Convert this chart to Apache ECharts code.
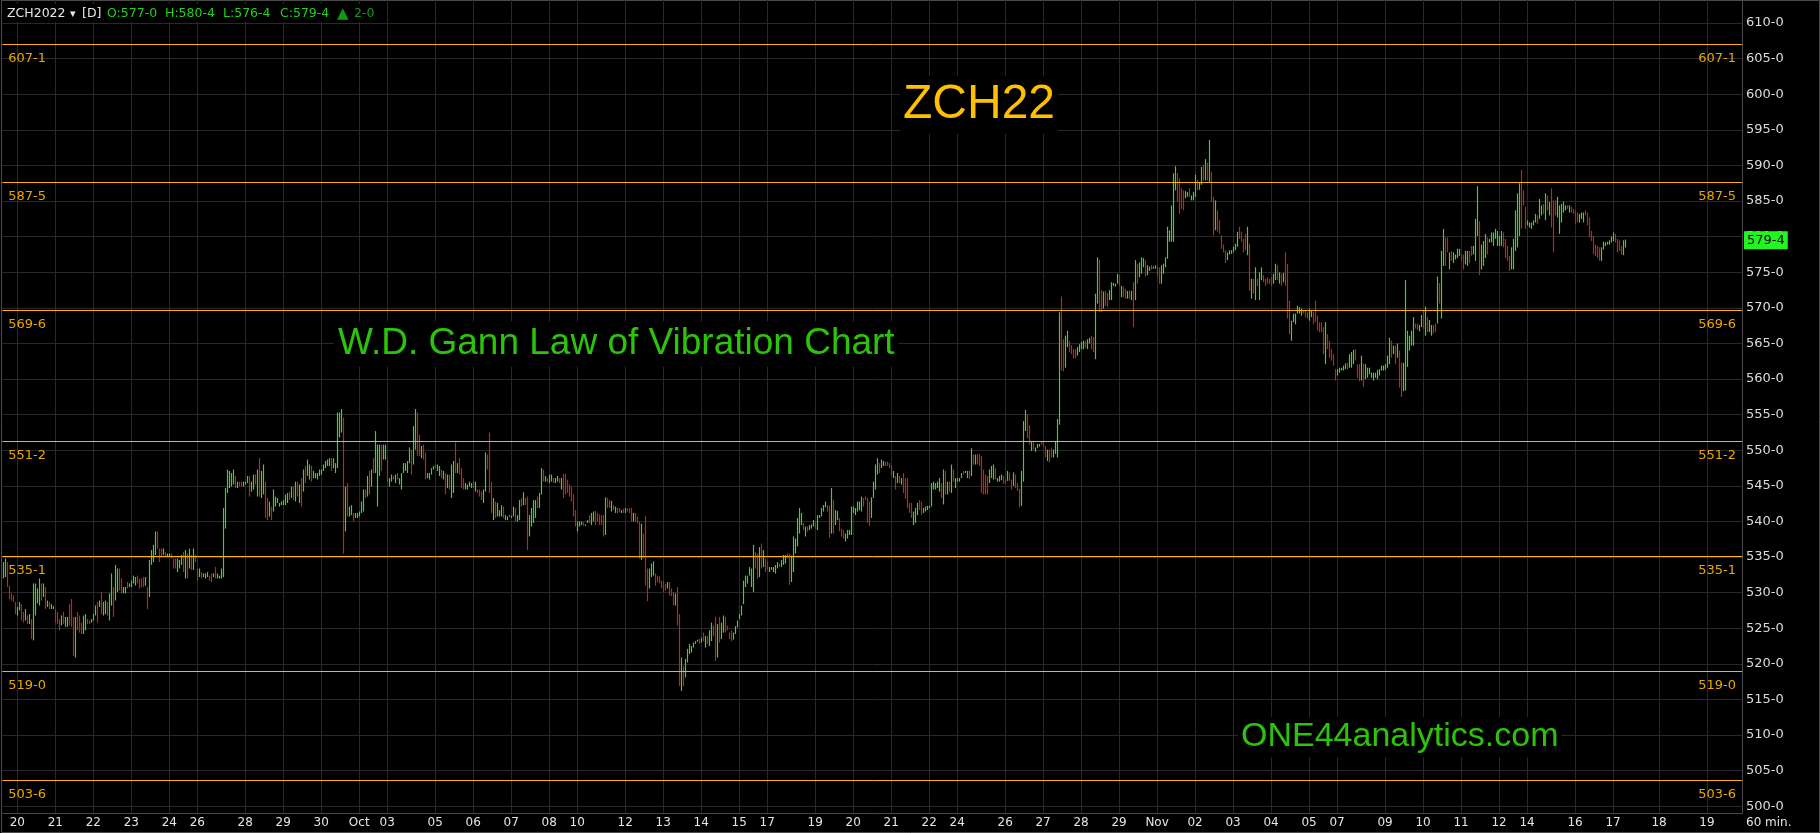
<!DOCTYPE html>
<html><head><meta charset="utf-8">
<script src="https://cdn.jsdelivr.net/npm/echarts@6/dist/echarts.min.js"></script>
<style>html,body{margin:0;padding:0;background:#000;overflow:hidden}#c{width:1820px;height:833px}</style>
</head><body><div id="c"></div>
<script>
// ---------- DATA (ZCH2022, 60 min bars) ----------
const highs = [
534.3,534.8,534.3,531.0,529.9,529.6,528.7,528.0,528.7,528.4,
527.3,527.7,526.8,527.0,526.3,531.3,531.3,530.6,532.0,531.3,
531.3,530.8,528.9,528.7,528.4,528.1,527.7,527.3,526.3,526.8,
527.3,526.6,526.6,528.4,529.1,526.6,526.6,527.3,526.8,525.8,
526.8,527.0,526.3,526.1,526.3,527.0,528.2,528.7,528.9,530.1,
528.7,528.9,528.7,529.9,532.7,530.8,533.9,533.4,533.4,532.0,
530.8,530.8,531.5,531.3,531.7,532.4,532.2,532.4,532.0,532.0,
532.2,532.2,530.8,534.6,536.0,536.7,538.6,538.6,536.2,536.2,
536.2,535.7,535.5,535.5,535.5,534.8,534.8,534.8,534.6,535.3,
535.7,536.0,535.5,536.2,535.3,536.2,535.3,533.4,533.4,532.9,
532.7,532.7,532.9,532.4,532.7,532.7,533.6,532.7,532.4,533.4,
541.9,544.7,547.3,547.1,546.8,547.3,546.4,545.6,545.6,545.6,
545.6,545.6,546.4,546.4,545.6,546.6,546.6,547.3,548.9,547.1,
548.0,545.6,543.3,542.8,542.1,544.5,543.5,543.3,542.6,542.8,
543.0,543.8,544.0,544.2,544.9,544.9,545.6,545.6,545.2,546.1,
547.3,547.8,548.7,548.0,547.8,547.1,546.8,546.8,547.3,547.3,
548.0,548.5,548.7,548.9,548.9,548.9,548.2,555.3,555.3,555.8,
554.6,544.9,545.4,542.1,542.3,541.2,541.2,541.2,541.4,542.8,
544.5,544.5,546.4,547.1,547.3,548.9,552.7,550.8,550.8,550.8,
550.8,550.8,548.7,546.1,546.6,546.4,546.6,546.8,546.1,546.8,
548.2,548.2,548.5,550.4,550.1,553.4,555.8,555.3,552.2,550.6,
550.8,549.7,546.8,546.8,547.5,547.8,548.0,548.0,547.8,547.3,
547.1,546.8,546.6,546.6,548.0,548.5,551.1,548.2,548.9,547.5,
546.1,545.4,545.2,545.6,545.4,545.6,545.6,544.5,544.5,544.2,
544.5,549.7,549.4,552.5,545.6,543.3,542.8,542.6,541.6,
542.3,542.1,540.9,540.7,540.9,540.8,542.1,541.9,540.9,543.0,
543.3,544.1,543.3,543.5,540.9,541.9,543.0,543.0,543.5,544.0,
547.5,547.3,546.4,546.1,546.6,546.6,546.1,546.1,546.4,546.1,
546.1,546.7,546.7,545.9,545.2,544.9,543.8,541.6,540.0,540.0,
540.0,539.9,539.6,540.2,540.9,541.2,541.4,541.5,541.2,541.0,
540.9,540.9,543.4,543.3,543.0,542.9,542.3,542.1,541.9,541.9,
541.6,541.8,541.9,541.8,541.9,541.9,541.2,541.2,540.7,540.0,
539.7,538.3,540.8,533.4,533.4,534.1,534.4,532.7,532.4,532.3,
531.7,531.7,531.3,531.5,531.5,530.6,530.1,529.9,530.8,527.0,
520.9,519.7,520.7,522.1,522.8,522.5,523.0,523.2,523.4,523.5,
523.7,524.4,523.9,523.9,524.7,525.8,525.4,526.6,525.6,526.6,
525.8,526.8,526.6,525.4,524.4,524.7,524.4,525.3,526.1,527.0,
528.2,531.7,532.4,532.4,533.6,533.4,536.7,535.7,535.5,536.4,
536.9,536.0,534.8,534.4,533.6,533.6,533.6,533.9,534.3,534.1,
534.6,535.3,535.3,535.5,535.5,535.2,537.9,537.6,540.5,541.9,
541.2,539.8,539.3,539.3,539.5,539.6,540.2,540.0,540.9,540.9,
541.9,542.3,542.8,542.3,542.2,544.7,543.0,541.6,541.5,540.5,
539.0,538.8,538.3,538.8,538.8,542.1,542.1,541.9,542.8,542.8,
543.5,543.3,543.5,543.3,542.8,543.4,545.6,548.0,548.9,548.2,
548.7,548.5,548.4,548.4,548.2,547.9,547.1,546.4,546.8,546.4,
546.1,546.8,546.1,546.1,542.6,542.6,541.4,541.9,542.6,543.0,
542.8,541.9,542.1,542.2,542.2,545.4,545.6,545.4,545.6,546.1,
545.4,547.3,547.1,545.6,545.6,548.0,547.3,546.1,546.1,546.1,
546.8,547.1,547.1,547.1,547.1,550.3,549.4,549.4,549.5,549.5,
549.2,547.3,546.6,546.4,547.3,547.8,548.0,547.5,546.1,546.4,
546.6,546.4,545.9,547.1,546.9,545.9,546.9,546.6,545.4,544.6,
547.1,554.1,555.7,555.1,553.5,551.3,551.2,550.4,550.9,550.9,
551.2,551.2,550.6,550.1,550.1,550.4,550.1,551.3,554.4,
569.4,571.6,565.6,566.1,566.8,565.4,564.8,564.2,564.2,564.5,
564.9,565.2,565.4,565.4,565.6,565.8,566.1,565.9,572.0,577.1,
576.8,572.5,572.3,572.4,572.1,572.5,573.6,573.5,573.4,574.8,
574.6,573.1,573.0,572.7,572.4,572.4,572.4,573.6,576.7,576.2,
576.4,577.1,577.0,576.7,576.0,575.8,576.0,575.8,576.0,575.8,
575.7,576.0,576.2,577.1,581.4,580.9,584.4,588.9,589.9,588.9,
588.2,586.8,586.5,586.4,586.3,586.8,585.8,586.3,588.7,588.0,
587.7,589.8,590.1,590.9,590.4,593.6,589.1,585.6,585.1,583.7,
582.3,580.2,578.9,578.1,577.8,578.1,578.1,578.6,579.0,580.7,
581.4,580.7,579.7,580.4,581.4,579.0,574.1,574.1,575.7,574.1,
575.0,575.7,574.6,574.1,574.3,574.1,574.3,574.8,576.2,576.0,
575.0,574.8,574.9,577.8,576.2,571.0,568.2,569.2,569.2,570.3,
570.1,569.9,569.6,569.6,569.4,569.9,569.6,569.4,571.0,568.9,
568.0,568.0,567.3,568.0,566.3,565.4,564.2,563.5,561.4,561.4,
561.6,561.6,561.9,562.2,562.3,563.5,563.8,564.1,564.2,562.1,
562.1,563.3,562.2,562.1,561.6,561.6,560.9,560.9,560.9,561.3,
561.4,561.9,561.9,562.1,563.3,565.8,565.4,564.7,564.7,565.0,
564.0,562.3,562.3,573.9,566.8,566.1,566.8,568.7,
567.8,567.8,567.6,569.0,569.7,570.2,568.7,568.3,567.6,567.6,
567.8,574.4,573.5,578.0,581.1,579.9,579.9,577.8,578.0,577.8,
577.5,578.3,578.3,577.5,577.5,578.0,578.0,578.0,578.7,578.7,
582.5,587.1,582.2,578.9,579.4,580.4,579.9,579.7,580.6,580.6,
581.1,580.8,580.1,580.8,580.6,579.7,578.7,577.3,578.5,579.7,
583.7,586.1,587.5,589.4,586.5,584.2,582.3,582.0,582.0,582.3,
583.2,583.0,585.3,584.4,584.6,586.1,585.8,584.9,586.8,585.1,
585.1,585.6,584.4,584.6,584.9,584.4,584.4,584.4,584.2,583.9,
583.7,583.4,583.2,583.4,583.4,583.7,583.4,582.7,580.8,580.1,
578.9,578.7,578.5,578.5,579.3,579.2,579.3,579.5,580.0,580.6,
580.4,579.7,579.5,578.7,579.5,579.6
];
const lows = [
532.0,532.2,530.8,529.1,528.9,528.7,527.0,526.8,527.5,526.1,
525.8,526.1,525.6,525.6,523.5,523.3,526.8,528.5,528.2,528.9,
529.4,527.7,528.0,527.7,527.7,527.7,525.8,525.6,524.7,525.4,
525.6,525.2,525.2,525.4,525.2,521.1,520.9,524.7,524.4,524.2,
524.2,524.7,525.6,525.6,525.8,526.1,526.8,525.8,528.0,527.0,
526.8,527.0,526.8,526.1,528.2,526.6,528.9,530.1,530.3,529.9,
529.9,529.9,530.6,530.8,530.8,531.3,531.0,531.3,530.6,530.8,
530.8,531.0,527.7,529.4,533.9,534.3,535.3,536.2,534.3,535.0,
535.3,535.0,535.0,535.0,534.8,533.4,533.4,532.9,533.4,533.9,
532.9,532.0,532.0,533.4,533.2,533.2,534.3,531.7,532.2,532.0,
532.2,532.0,532.2,531.7,531.5,532.2,532.0,532.0,532.0,532.0,
532.2,539.0,544.0,544.7,544.9,545.2,544.7,544.7,544.9,544.9,
544.9,545.2,545.4,543.5,544.2,544.5,545.2,543.5,543.5,543.3,
543.8,540.5,540.2,540.7,540.2,541.4,542.1,542.6,542.1,542.3,
542.3,542.3,542.6,543.0,543.3,543.0,542.8,543.5,542.6,542.1,
544.2,545.4,546.4,545.9,545.6,546.1,546.1,545.9,546.4,546.6,
547.1,547.5,547.8,547.8,547.1,547.5,546.8,547.5,551.8,552.5,
535.5,538.6,540.7,540.7,540.9,540.0,540.5,540.5,540.7,541.2,
541.4,543.3,543.5,543.8,544.9,546.8,546.8,542.1,546.4,547.1,
548.7,548.7,545.6,544.9,545.6,545.9,545.4,545.9,545.2,544.5,
546.8,547.1,546.8,548.2,546.6,548.0,550.1,549.2,549.2,548.9,
548.7,545.9,546.1,545.9,546.6,547.3,547.5,547.1,546.4,546.1,
545.9,543.8,544.7,544.5,543.3,544.0,546.8,546.8,546.6,544.7,
544.5,544.5,544.5,544.9,544.7,544.7,544.2,544.0,543.5,543.0,
542.6,544.2,547.3,544.0,541.2,540.2,540.5,540.7,540.7,
540.7,540.5,540.2,540.2,540.7,540.5,540.7,540.0,540.0,540.2,
542.1,542.3,542.3,536.0,537.9,539.3,539.8,540.5,541.9,541.9,
543.8,545.6,545.6,545.6,545.4,545.6,545.4,545.4,545.6,545.4,
544.5,543.3,543.8,544.0,543.5,542.8,540.7,539.3,538.6,539.3,
539.5,539.4,539.4,539.8,539.8,539.5,540.0,539.5,540.0,539.5,
539.5,537.9,538.1,541.9,541.9,541.4,541.6,541.2,541.2,541.3,
541.2,541.2,541.2,541.4,541.2,540.0,540.0,540.0,539.8,534.8,
534.6,534.8,531.0,528.8,530.6,532.2,532.4,531.0,531.5,531.3,
530.6,530.1,530.3,530.6,529.6,529.5,528.2,528.2,525.4,516.9,
516.2,516.9,518.1,520.2,521.4,521.6,522.3,522.8,523.1,522.8,
523.0,523.2,522.3,522.8,522.5,523.2,523.9,520.4,520.9,523.0,
523.5,524.4,524.4,524.7,523.5,523.2,523.4,524.2,525.1,526.3,
526.8,528.4,530.8,531.3,532.4,530.8,530.1,533.4,532.0,532.2,
533.4,533.6,532.9,533.2,532.9,533.2,532.9,532.7,533.4,533.6,
533.6,533.9,534.1,534.8,531.1,531.5,532.9,535.5,536.5,538.3,
539.5,538.8,537.9,538.6,538.8,539.0,539.3,539.0,538.8,540.5,
540.7,541.4,542.0,541.4,537.7,538.3,538.3,539.5,540.2,538.6,
537.9,537.6,537.2,537.6,538.1,538.1,541.2,540.9,541.4,541.6,
541.4,542.1,543.0,539.8,539.4,540.5,543.3,544.5,546.6,546.8,
547.5,547.8,547.8,547.8,547.5,546.5,546.1,544.5,545.4,545.4,
545.2,544.0,543.2,541.9,541.2,540.5,539.5,539.8,540.9,541.6,
540.9,541.2,541.4,541.6,541.9,542.1,544.5,544.5,544.7,544.2,
543.3,542.4,543.8,543.8,544.2,544.0,545.6,544.7,545.6,545.6,
546.1,546.6,546.8,546.1,546.0,546.4,548.0,548.0,548.0,547.8,
544.0,543.8,543.8,543.8,545.4,546.1,545.9,545.9,545.6,545.6,
545.8,545.3,545.3,545.7,545.7,544.5,545.0,544.7,544.3,542.0,
542.2,545.6,552.7,551.7,550.8,549.9,550.1,549.8,550.3,550.5,
550.8,550.5,549.0,548.5,548.3,549.0,549.0,549.5,549.0,
553.6,561.2,561.1,561.6,564.5,563.8,563.5,562.9,562.9,563.3,
563.8,564.2,564.2,564.4,564.2,565.0,564.2,563.8,562.8,570.6,
569.4,569.4,569.9,570.3,570.1,571.1,571.1,573.1,573.0,573.4,
573.1,571.5,571.5,571.3,571.3,571.3,571.1,567.3,571.1,573.4,
574.3,574.8,575.7,574.4,574.6,575.2,575.4,575.5,575.5,574.4,
573.4,573.4,574.8,575.7,576.9,579.3,579.3,579.3,586.5,584.9,
583.2,583.9,583.7,585.4,585.6,585.6,585.1,585.1,585.6,586.5,
586.6,587.3,587.9,587.9,587.9,587.7,584.9,580.2,580.9,580.7,
580.4,578.3,577.8,576.3,576.7,577.5,577.6,577.8,578.1,578.6,
579.7,579.3,577.8,578.1,577.4,572.4,571.3,572.0,571.1,573.1,
571.1,573.9,573.6,573.1,573.4,573.4,573.1,573.4,573.9,573.9,
573.4,573.1,573.6,573.1,568.5,566.3,565.4,568.0,567.7,569.2,
569.2,568.9,569.2,568.7,568.5,568.2,568.7,567.7,568.0,566.8,
566.6,566.6,563.5,562.1,564.2,563.0,562.6,561.9,559.8,560.5,
560.9,561.2,561.2,561.4,561.4,561.6,561.6,562.1,562.6,560.2,
559.7,559.8,558.9,560.0,560.2,560.7,560.2,559.8,560.2,560.0,
560.5,561.2,561.2,561.3,561.6,562.1,563.0,563.5,562.1,563.0,
558.8,557.5,558.3,558.4,561.7,564.0,564.7,564.7,
567.1,566.9,566.7,567.3,567.1,566.1,566.6,566.6,566.1,566.4,
566.6,567.8,570.6,568.5,575.9,575.9,577.8,575.4,576.6,576.3,
576.8,577.0,577.3,576.6,575.4,576.1,575.9,576.3,577.3,577.5,
576.6,580.1,574.6,575.4,575.9,577.0,577.5,579.2,579.2,578.7,
579.7,578.7,578.7,578.7,578.5,577.0,576.6,575.2,575.4,575.4,
578.0,578.5,580.1,581.1,584.4,581.1,581.6,581.3,581.1,581.6,
582.0,581.8,582.5,583.0,583.2,582.3,583.7,583.0,581.3,577.8,
583.0,582.7,580.4,582.0,583.4,583.7,583.9,583.4,583.4,583.2,
581.8,582.0,582.0,582.5,582.0,583.0,581.6,579.9,579.4,577.5,
577.3,577.0,576.6,576.6,578.2,578.7,578.9,578.9,579.2,579.4,
579.2,577.8,578.0,577.5,577.4,578.5
];
// G = up bar (green), R = down bar (red)
const barDirs = (
"GGRRRRRGGR"+"RGRGRGGGGR"+"GRGRGGRRRG"+"RGGRRRGRRR"+"GGRRGGGRGR"+"GGRGGRGGRR"+"GGRGGGGRRR"+"RGRGGGGRRR"+"GRGGRRRGGG"+"RGRGRGRRGR"+
"GGGRRGRGGG"+"GGGGGGRGRR"+"GGGRGGRGRG"+"GRRGRGGGGG"+"GGGRGRGRGR"+"GRGGRGGGGG"+"GGGGRGGGGG"+"RGRGGRGGGG"+"GRGRGRGGGR"+"GGRGGRGRGG"+
"GGGGRGGRRG"+"RRGGGGRGGR"+"GRGRGGRGRR"+"RGGGGRGRRR"+"GGRRRGRGG"+
"GRGGGGGRGG"+"RGRRGGGGRG"+"GRGRGGRGGR"+"GRRRRRRRGG"+"GRGGRGGRRR"+"RRGRRGRGRR"+"GRGRRRGRRR"+"GRRRGGGRRR"+"RRRGRRRGRR"+"GRGGGGGGGR"+
"GRGRGGRRGR"+"GGRRRRGGGG"+"GGGGGGGRRG"+"RGRRGGGGGR"+"GGGRRGGGGG"+"GRGRGGGRGG"+"GGGRRGRGGR"+"RRGGGGGGGG"+"GRRRRGGGGR"+"GGRRRRGRGR"+
"GRRRRRGGGR"+"RGGGGGGGGG"+"RGRGRGRGGG"+"GRGGRGRGRR"+"RRRRGGGRGG"+
"GRRGRRGRRR"+"GGGRRGRGGG"+"RRRGRRGGG"+
"GRRGGRRRRG"+"GGGRGGRRGG"+"RRGRRGGGGG"+"RGRRGRGRGR"+"GGGRGGRGGR"+"RGGGGGGGGR"+"RRRGGRGGGR"+"GGRGRGRRGR"+"RRRRGGGGGG"+"RRRRGRGRGR"+
"GGRRRRRGGR"+"GRGRRRGGGG"+"GGRRRGGRRR"+"RRRGRRRRRG"+"GGGGRGGGRR"+"RGRGGGGGGG"+"GGGGGGRGRG"+"RRGGGGGG"+
"RRGGRGRGGR"+"RGRGGRRGRG"+"GGGRRGGRRG"+"GGRGGGRGGG"+"GGGGRRRRGG"+"GGGRRRGGGG"+"GRGGRGRGRR"+"RGGGGGRGRR"+"RRGGGRRRRR"+"RRRGGGGGGG"+
"RRRRGG").split('');

const gannLevels = [607.125, 587.625, 569.75, 551.25, 535.125, 519, 503.75];
const dateLabelIdx = [7,26,45,64,83,97,121,140,159,178,192,216,235,254,273,287,311,330,349,368,382,406,425,444,463,477,501,520,539,558,577,596,615,634,653,667,691,710,729,748,762,786,805,828,852];
const dateLabelText = ['20','21','22','23','24','26','28','29','30','Oct','03','05','06','07','08','10','12','13','14','15','17','19','20','21','22','24','26','27','28','29','Nov','02','03','04','05','07','09','10','11','12','14','16','17','18','19'];
const lastClose = 579.5;
const headerQuote = ['O:577-0','H:580-4','L:576-4','C:579-4'];
const headerChange = '2-0';
const yTicks = {min: 495, max: 615, step: 5};
const slotCount = 870; // bars + empty future slots on the time axis

// ---------- STYLE ----------
const GREEN = '#33dc1e', RED = '#e11717', GRID = '#292929', FRAME = '#4a4a4a';
const GOLD_LINE = '#ffb400', GOLD_TXT = '#eaa700';
const FONT = 'DejaVu Sans';
const PLOT_TOP = 613.3, PLOT_BOT = 499.1;

function fmt8(v) { const w = Math.floor(v + 1e-9); return w + '-' + Math.round((v - w) * 8); }

const cats = [];
for (let i = 0; i < slotCount; i++) cats.push(String(i));
const labelMap = {};
dateLabelIdx.forEach((k, j) => { labelMap[k] = dateLabelText[j]; });

const barData = highs.map((h, i) => [i, lows[i], h, barDirs[i] === 'R' ? -1 : 1]);

const chart = echarts.init(document.getElementById('c'), null, {renderer: 'canvas', width: 1820, height: 833});

const option = {
  backgroundColor: '#000',
  animation: false,
  grid: {left: 2.3, right: 78, top: -12.5, bottom: -8.9, containLabel: false, outerBoundsMode: 'none'},
  xAxis: {
    type: 'category', data: cats, boundaryGap: true, offset: -29.2,
    axisLine: {show: false}, axisTick: {show: false}, splitLine: {show: false},
    axisLabel: {
      interval: (i) => labelMap[i] !== undefined,
      formatter: (v) => labelMap[v] || '',
      color: '#e4e4e4', fontFamily: FONT, fontSize: 12, margin: 4
    }
  },
  yAxis: {
    type: 'value', position: 'right', min: yTicks.min, max: yTicks.max, interval: yTicks.step,
    axisLine: {show: false}, axisTick: {show: false},
    splitLine: {show: true, lineStyle: {color: GRID, width: 1}},
    axisLabel: {color: '#dcdcdc', fontFamily: FONT, fontSize: 13, margin: 4, formatter: (v) => v + '-0',
                showMinLabel: true, showMaxLabel: true}
  },
  series: [
    { // vertical date grid lines
      type: 'custom', z: 1, silent: true, clip: false,
      data: dateLabelIdx.map(k => [k, PLOT_BOT]),
      encode: {x: 0, y: 1},
      renderItem: (params, api) => {
        const k = api.value(0);
        const t = api.coord([k, PLOT_TOP]), b = api.coord([k, PLOT_BOT]);
        const x = Math.round(t[0]) + 0.5;
        return {type: 'line', shape: {x1: x, y1: Math.max(0, t[1]), x2: x, y2: b[1]}, style: {stroke: GRID, lineWidth: 1}};
      }
    },
    { // frame of the plot area
      type: 'custom', z: 2, silent: true, clip: false,
      data: [[0, PLOT_BOT]],
      encode: {x: 0, y: 1},
      renderItem: (params, api) => {
        const cs = params.coordSys;
        const yb = Math.round(api.coord([0, PLOT_BOT])[1]) + 0.5;
        const xr = Math.round(cs.x + cs.width) + 0.5;
        const xl = Math.round(cs.x) + 0.5;
        return {type: 'group', children: [
          {type: 'line', shape: {x1: xl, y1: yb, x2: xr, y2: yb}, style: {stroke: FRAME, lineWidth: 1}},
          {type: 'line', shape: {x1: xr, y1: 0, x2: xr, y2: yb}, style: {stroke: FRAME, lineWidth: 1}}
        ]};
      }
    },
    { // price bars (high-low)
      type: 'custom', z: 3, silent: true, clip: false,
      data: barData,
      encode: {x: 0, y: [1, 2]},
      renderItem: (params, api) => {
        const k = api.value(0), lo = api.value(1), hi = api.value(2), up = api.value(3);
        const a = api.coord([k, hi]), b = api.coord([k, lo]);
        const x = Math.round(a[0]) + 0.5;
        let y1 = a[1], y2 = b[1];
        if (y2 - y1 < 1.5) { const m = (y1 + y2) / 2; y1 = m - 0.75; y2 = m + 0.75; }
        return {type: 'line', shape: {x1: x, y1: y1, x2: x, y2: y2}, style: {stroke: up > 0 ? GREEN : RED, lineWidth: 1.15}};
      }
    },
    { // Gann law-of-vibration levels
      type: 'custom', z: 4, silent: true, clip: false,
      data: gannLevels.map(v => [0, v]),
      encode: {x: 0, y: 1},
      renderItem: (params, api) => {
        const cs = params.coordSys;
        const v = api.value(1);
        const y = Math.round(api.coord([0, v])[1]) + 0.5;
        const lbl = fmt8(v);
        return {type: 'group', children: [
          {type: 'line', shape: {x1: cs.x, y1: y, x2: cs.x + cs.width, y2: y}, style: {stroke: GOLD_LINE, lineWidth: 1}},
          {type: 'text', x: cs.x + 6, y: y + 14, style: {text: lbl, fill: GOLD_TXT, font: '13px "' + FONT + '"', align: 'left', verticalAlign: 'middle'}},
          {type: 'text', x: cs.x + cs.width - 6, y: y + 14, style: {text: lbl, fill: GOLD_TXT, font: '13px "' + FONT + '"', align: 'right', verticalAlign: 'middle'}}
        ]};
      }
    },
    { // last price tag on the price axis
      type: 'custom', z: 6, silent: true, clip: false,
      data: [[highs.length - 1, lastClose]],
      encode: {x: 0, y: 1},
      renderItem: (params, api) => {
        const cs = params.coordSys;
        const y = api.coord([api.value(0), api.value(1)])[1];
        return {type: 'text', x: cs.x + cs.width + 2, y: y, style: {
          text: fmt8(api.value(1)), fill: '#000', backgroundColor: '#22f522',
          padding: [3, 3, 2, 3], font: '13px "' + FONT + '"', align: 'left', verticalAlign: 'middle'}};
      }
    }
  ],
  graphic: [
    {type: 'rect', z: 0, silent: true, shape: {x: 1.5, y: 0.5, width: 1818, height: 832}, style: {fill: null, stroke: FRAME, lineWidth: 1}},
    {type: 'rect', z: 20, silent: true, shape: {x: 4, y: 4, width: 380, height: 18}, style: {fill: '#000'}},
    {type: 'text', z: 21, x: 7, y: 14, style: {text: 'ZCH2022', fill: '#e6e6e6', font: '12.5px "' + FONT + '"', verticalAlign: 'middle'}},
    {type: 'text', z: 21, x: 70, y: 14, style: {text: '▾', fill: '#e6e6e6', font: '11px "' + FONT + '"', verticalAlign: 'middle'}},
    {type: 'text', z: 21, x: 82, y: 14, style: {text: '[D]', fill: '#e6e6e6', font: '12.5px "' + FONT + '"', verticalAlign: 'middle'}},
    {type: 'text', z: 21, x: 107, y: 14, style: {text: headerQuote[0], fill: '#1ed41e', font: '12.5px "' + FONT + '"', verticalAlign: 'middle'}},
    {type: 'text', z: 21, x: 165, y: 14, style: {text: headerQuote[1], fill: '#1ed41e', font: '12.5px "' + FONT + '"', verticalAlign: 'middle'}},
    {type: 'text', z: 21, x: 223, y: 14, style: {text: headerQuote[2], fill: '#1ed41e', font: '12.5px "' + FONT + '"', verticalAlign: 'middle'}},
    {type: 'text', z: 21, x: 280, y: 14, style: {text: headerQuote[3], fill: '#1ed41e', font: '12.5px "' + FONT + '"', verticalAlign: 'middle'}},
    {type: 'text', z: 21, x: 337, y: 14, style: {text: '▲', fill: '#119a11', font: '15px "' + FONT + '"', verticalAlign: 'middle'}},
    {type: 'text', z: 21, x: 354, y: 14, style: {text: headerChange, fill: '#139c13', font: '12.5px "' + FONT + '"', verticalAlign: 'middle'}},
    {type: 'text', z: 21, x: 900, y: 105, style: {text: 'ZCH22', fill: '#ffc000', font: '48px "Liberation Sans"', verticalAlign: 'middle', backgroundColor: '#000', padding: [6, 3, 4, 3]}},
    {type: 'text', z: 21, x: 334, y: 344, style: {text: 'W.D. Gann Law of Vibration Chart', fill: '#2cc40a', font: '37px "Liberation Sans"', verticalAlign: 'middle', backgroundColor: '#000', padding: [4, 4, 4, 4]}},
    {type: 'text', z: 21, x: 1238, y: 737, style: {text: 'ONE44analytics.com', fill: '#2cc40a', font: '34px "Liberation Sans"', verticalAlign: 'middle', backgroundColor: '#000', padding: [3, 3, 3, 3]}},
    {type: 'text', z: 21, x: 1746, y: 823, style: {text: '60 min.', fill: '#e4e4e4', font: '12px "' + FONT + '"', verticalAlign: 'middle'}}
  ]
};
chart.setOption(option);
</script>
</body></html>
